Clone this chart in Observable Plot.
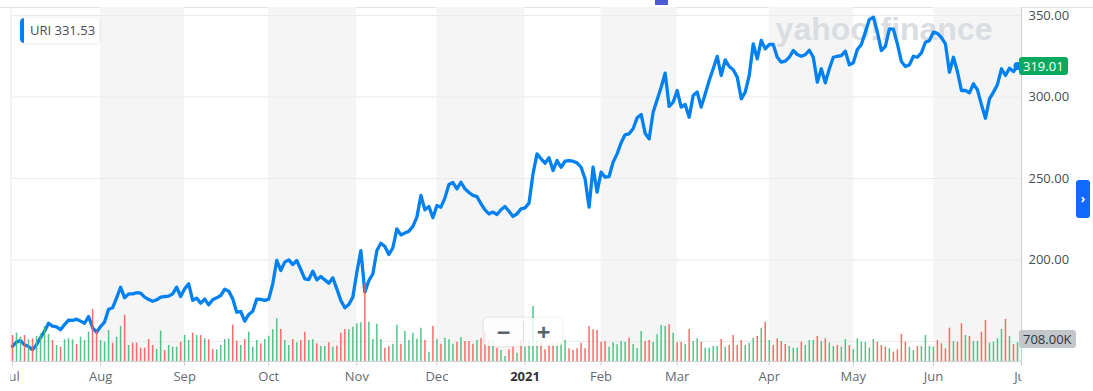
<!DOCTYPE html>
<html><head><meta charset="utf-8">
<script src="https://cdn.jsdelivr.net/npm/d3@7"></script>
<script src="https://cdn.jsdelivr.net/npm/@observablehq/plot@0.6"></script>
<style>
body{margin:0;background:#fff;font-family:"Open Sans",sans-serif;}
#wrap{position:relative;width:1093px;height:391px;overflow:hidden;}
#wrap svg{position:absolute;left:0;top:0;}
.abs{position:absolute;}
.topline{left:0;top:7px;width:1093px;height:1px;background:#e2e2e2;}
.leftline{left:10px;top:8px;width:2px;height:353px;background:#f3f3f3;}
.legend{left:20px;top:18px;width:79px;height:25px;background:#fff;border-radius:4px;box-shadow:0 0 4px rgba(0,0,0,0.12);overflow:hidden;font-size:13px;color:#464e56;line-height:25px;}
.legend .bar{position:absolute;left:0;top:0;width:4px;height:25px;background:#0081f2;border-radius:4px 0 0 4px;}
.legend .txt{position:absolute;left:10px;top:0;white-space:nowrap;}
.badge{left:1019px;height:18px;line-height:18px;padding:0 4px;border-radius:3px;font-size:13px;white-space:nowrap;}
.zoombox{left:484px;top:318px;width:78px;height:28px;background:rgba(255,255,255,0.82);border-radius:4px;box-shadow:0 0 3px rgba(0,0,0,0.12);}
.zoombox span{position:absolute;top:0;width:39px;text-align:center;line-height:27px;font-size:24px;font-weight:bold;color:#5b636a;}
.zoombox .div{position:absolute;left:39px;top:3px;width:1px;height:22px;background:#dcdcdc;}
.rbtn{left:1076px;top:180px;width:14px;height:38px;background:#0f69ff;border-radius:3px;color:#fff;font-size:12px;line-height:38px;text-align:center;font-weight:bold;}
.toptab{left:655px;top:0;width:13px;height:5px;background:#4b5bd4;}
</style></head><body><div id="wrap"></div>
<script>
// ---- data ----
const prices = [
147.1,149.6,150.6,148.0,146.9,144.9,148.0,152.3,156.3,161.2,
159.4,159.0,157.2,160.4,163.1,162.9,163.7,162.5,161.2,165.3,
158.4,155.7,159.2,161.9,169.8,170.7,176.8,183.3,176.8,179.2,
179.2,179.9,179.7,177.2,175.8,174.7,175.6,177.2,177.6,177.8,
179.2,183.3,177.6,182.3,185.4,175.2,176.6,173.5,176.0,172.5,
175.6,176.8,178.2,182.1,180.9,176.2,168.0,168.4,162.5,166.6,
168.6,176.0,175.8,175.2,176.0,185.4,199.7,193.6,198.7,200.1,
197.2,199.7,194.2,188.4,188.0,193.1,187.8,189.9,187.8,185.8,
189.1,182.3,175.2,170.7,172.7,177.2,192.5,205.8,180.3,187.4,
191.5,205.8,210.3,208.3,203.4,207.5,219.1,215.4,216.5,217.7,
220.6,226.3,239.6,230.8,232.8,225.9,233.4,232.4,238.1,246.3,
247.5,243.7,247.7,243.7,241.4,239.6,238.9,234.5,230.8,228.3,
229.4,227.9,230.8,232.8,229.9,226.7,228.3,231.4,232.0,234.9,
252.9,265.1,262.1,259.4,262.7,254.9,261.0,256.9,260.6,261.0,
260.6,259.6,256.9,249.8,232.4,256.9,241.6,253.9,250.8,251.2,
260.0,265.1,271.9,276.8,277.4,280.5,287.2,289.3,277.8,274.3,
290.7,298.3,306.0,314.6,294.2,296.8,304.0,293.8,295.4,287.6,
300.9,303.0,293.8,301.9,310.1,317.3,324.9,313.2,322.8,318.7,
316.7,312.2,298.9,303.0,313.2,332.6,323.4,334.7,329.6,332.2,
332.2,324.4,321.4,322.0,324.4,328.5,326.1,325.0,325.9,328.7,
324.4,309.1,317.3,308.7,317.3,324.4,325.0,325.4,328.1,319.7,
321.0,329.1,332.2,339.8,347.5,349.0,339.8,328.5,331.1,341.8,
341.6,332.6,321.8,318.7,319.7,325.0,324.4,327.1,333.6,334.6,
339.8,339.0,336.5,332.6,315.2,324.4,315.6,304.0,304.0,302.6,
308.1,304.4,295.2,287.0,298.9,303.0,307.7,317.3,313.2,317.7,315.6,319.01
];
// volume in thousands
const volumesK = [
975,1063,913,975,813,850,938,1038,1313,1013,
788,600,538,813,850,813,638,913,788,1100,
1950,1138,788,725,1163,688,913,1313,1738,600,
688,688,500,500,825,600,450,1138,413,600,
538,538,725,975,788,1063,975,975,850,813,
450,438,600,825,850,1363,763,600,825,1100,
538,788,663,825,950,1188,1600,1200,788,600,
825,700,788,1100,788,813,663,563,563,700,
538,575,1063,1200,1188,1288,1413,1450,2925,1475,
825,1400,825,500,563,650,1363,650,1125,788,
1063,838,1250,788,350,1325,825,650,875,813,
650,725,900,750,750,650,788,850,1100,788,
750,500,413,188,438,538,313,788,538,788,
2063,788,688,438,663,688,688,688,788,475,
413,475,688,475,1313,1188,1163,725,750,538,
700,625,750,725,875,638,488,1125,750,788,
713,1000,1350,1313,1375,1063,700,713,638,1200,
750,850,725,500,500,563,563,825,538,600,
975,600,788,600,688,875,938,1250,1475,788,
600,850,750,638,563,500,500,725,600,788,
788,938,750,850,700,563,600,538,825,600,
450,850,725,713,513,825,725,600,538,475,
350,438,1013,725,538,413,563,563,975,563,
538,788,663,475,1250,750,725,1413,975,938,
750,750,1100,1538,688,725,850,1200,1575,938,638,708
];
// g = up day (green), r = down day (red)
const volumeDirection = ("rggrgrgggg rgrgggrggg rrgggrggrg rrrrrrggrg ggrggrgrgr rggggrrgrg ggrggggrgg rgrrggrggr grrrggggrg gggrrggrgg " +
  "gggrgrgrgg grgrrrgrrr grggrrgrgg ggrrrrgggr rrrrrrrrrg ggggrgggrr ggggrgrrgr ggrggggrgr rrrgggrgrg rrrrgggrgg " +
  "grgrggrggr ggggggrrrg rrrrggrggg grrrrgrrgr ggrrggggrgrg").replace(/ /g, "").split("");
// trading-day index of each month start
const monthStarts = [0, 22, 43, 64, 86, 106, 128, 147, 166, 189, 210, 230, 252];
const monthLabels = ["Jul", "Aug", "Sep", "Oct", "Nov", "Dec", "2021", "Feb", "Mar", "Apr", "May", "Jun", "Jul"];
const shadedMonths = [[22, 43], [64, 86], [106, 128], [147, 166], [189, 210], [230, 252]];
const gridPrices = [150, 200, 250, 300, 350];
const labelledPrices = [200, 250, 300, 350];
const tickerLabel = "URI 331.53";
const lastPriceLabel = "319.01";
const lastVolumeLabel = "708.00K";
const totalDays = 252;

// ---- build ----
const upColor = "#3dbf7d", downColor = "#f85c5c";
const data = prices.map((p, i) => ({i, price: p, vol: volumesK[i], color: volumeDirection[i] === "g" ? upColor : downColor}));
const bands = shadedMonths.map(([a, b]) => ({a, b}));
const labelOf = d => monthLabels[monthStarts.indexOf(d)];
const FONT = "'Open Sans', sans-serif";

const pricePlot = Plot.plot({
  width: 1093, height: 391,
  marginLeft: 12, marginRight: 72, marginTop: 7, marginBottom: 30,
  style: {fontFamily: FONT, fontSize: "13px", background: "transparent", overflow: "visible"},
  x: {domain: [0, totalDays]},
  y: {domain: [137.73, 354.91]},
  marks: [
    Plot.rect(bands, {x1: "a", x2: "b", fill: "#f5f5f5"}),
    Plot.text(["yahoo!finance"], {frameAnchor: "top-right", dx: -29, dy: 10, lineAnchor: "top", textAnchor: "end",
      fontSize: 32, fontWeight: "bold", fill: "#dadde1", fontFamily: "'Liberation Sans', Arial, sans-serif"}),
    Plot.ruleY(gridPrices, {stroke: "#ebebeb"}),
    Plot.ruleX([totalDays], {stroke: "#cfcfcf"}),
    Plot.axisY(labelledPrices, {anchor: "right", tickSize: 0, tickPadding: 7, tickFormat: d => d.toFixed(2),
      fill: "#464e56", fontSize: 13, label: null}),
    Plot.axisX(monthStarts.filter(d => labelOf(d) !== "2021"), {tickSize: 5, tickPadding: 5, stroke: "#cfcfcf",
      fill: "#646b72", fontSize: 13, tickFormat: labelOf, label: null}),
    Plot.axisX(monthStarts.filter(d => labelOf(d) === "2021"), {tickSize: 5, tickPadding: 5, stroke: "#cfcfcf",
      fill: "#333", fontSize: 13, fontWeight: "bold", tickFormat: labelOf, label: null}),
    Plot.line(data, {x: "i", y: "price", stroke: "#0081f2", strokeWidth: 3.3, strokeLinejoin: "round", strokeLinecap: "round"}),
    Plot.dot(data.slice(-1), {x: "i", y: "price", r: 4, fill: "#0081f2"})
  ]
});

const volPlot = Plot.plot({
  width: 1093, height: 391,
  marginLeft: 12, marginRight: 72, marginTop: 281, marginBottom: 30,
  style: {background: "transparent", overflow: "visible"},
  x: {domain: [0, totalDays], axis: null},
  y: {domain: [0, 3000], axis: null},
  color: {type: "identity"},
  marks: [
    Plot.ruleY([0], {stroke: "#d2d2d2"}),
    Plot.ruleX(data, {x: "i", y1: 0, y2: "vol", stroke: "color", strokeWidth: 1.5, strokeOpacity: 0.9})
  ]
});

const wrap = document.getElementById("wrap");
const add = (cls, html, style) => { const d = document.createElement("div"); d.className = "abs " + cls; if (html != null) d.innerHTML = html; if (style) Object.assign(d.style, style); wrap.appendChild(d); return d; };

add("topline");
add("leftline");
wrap.appendChild(pricePlot);
wrap.appendChild(volPlot);

// clip the x tick labels to the plot area (as in the reference, "Jul" is cut at both ends)
const xs = pricePlot.scale("x");
const ns = "http://www.w3.org/2000/svg";
const defs = document.createElementNS(ns, "defs");
const cp = document.createElementNS(ns, "clipPath"); cp.setAttribute("id", "xlabclip");
const cr = document.createElementNS(ns, "rect");
cr.setAttribute("x", xs.apply(0) - 2); cr.setAttribute("y", 0);
cr.setAttribute("width", xs.apply(totalDays) - xs.apply(0) + 2); cr.setAttribute("height", 391);
cp.appendChild(cr); defs.appendChild(cp); pricePlot.insertBefore(defs, pricePlot.firstChild);
pricePlot.querySelectorAll('g[aria-label="x-axis tick label"]').forEach(g => g.setAttribute("clip-path", "url(#xlabclip)"));

// overlays
add("legend", `<div class="bar"></div><div class="txt">${tickerLabel}</div>`);
const yPrice = pricePlot.scale("y").apply(+lastPriceLabel);
add("badge", lastPriceLabel, {top: (yPrice - 9) + "px", background: "#0aaa5e", color: "#fff"});
const yVol = volPlot.scale("y").apply(volumesK[volumesK.length - 1]);
add("badge", lastVolumeLabel, {top: (yVol - 12) + "px", background: "#c3c7cb", color: "#2f363c"});
add("zoombox", `<span style="left:0">&minus;</span><div class="div"></div><span style="left:40px">+</span>`);
add("rbtn", "&#x203A;");
add("toptab");
</script>
</body></html>
